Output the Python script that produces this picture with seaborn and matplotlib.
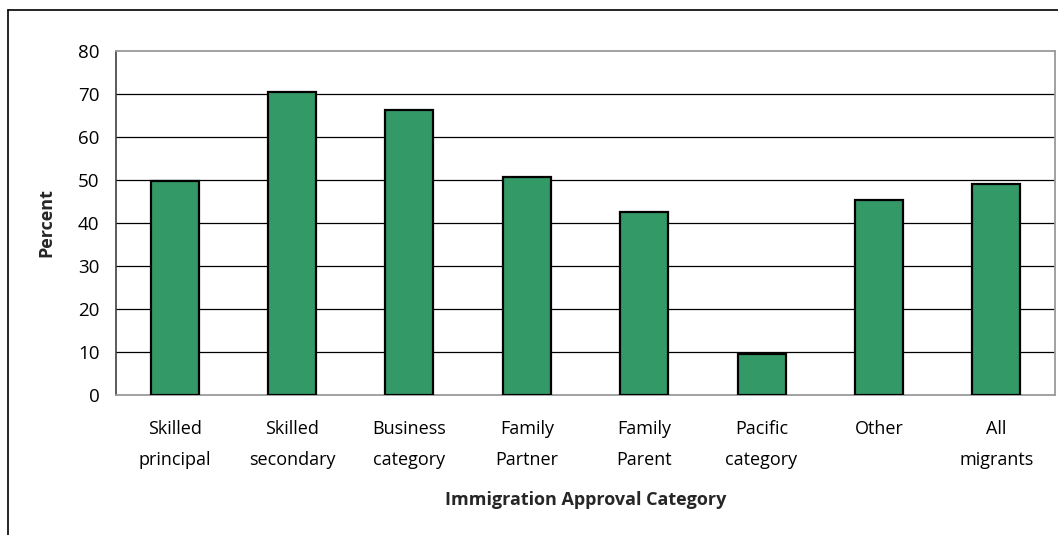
import matplotlib
matplotlib.use("Agg")
import matplotlib.pyplot as plt
from matplotlib.lines import Line2D
import seaborn as sns
import pandas as pd

categories = ["Skilled\nprincipal", "Skilled\nsecondary", "Business\ncategory",
              "Family\nPartner", "Family\nParent", "Pacific\ncategory",
              "Other", "All\nmigrants"]
percent = [49.8, 70.5, 66.2, 50.6, 42.5, 9.6, 45.4, 49.1]
y_ticks = [0, 10, 20, 30, 40, 50, 60, 70, 80]

sns.set_theme(style="white")
plt.rcParams["font.family"] = ["Open Sans", "DejaVu Sans"]

df = pd.DataFrame({"category": categories, "percent": percent})

fig = plt.figure(figsize=(10.58, 5.35), dpi=100)
ax = fig.add_axes([116 / 1058, 1 - 395 / 535, (1055 - 116) / 1058, (395 - 51) / 535])

sns.barplot(data=df, x="category", y="percent", color="#339966", saturation=1,
            width=0.41, edgecolor="black", linewidth=1.6, ax=ax, zorder=3)

ax.set_ylim(0, 80)
ax.set_xlim(-0.5, len(categories) - 0.5)
ax.set_yticks(y_ticks)
ax.set_yticklabels([str(v) for v in y_ticks], fontsize=13.5, color="black")

# category boundaries get the tick marks, category centres get the labels
ax.set_xticks([i - 0.5 for i in range(len(categories) + 1)])
ax.set_xticklabels([""] * (len(categories) + 1))
ax.set_xticks(range(len(categories)), minor=True)
ax.set_xticklabels(categories, minor=True, fontsize=13, color="black", linespacing=1.9)
ax.tick_params(axis="x", which="minor", length=0, pad=18)
ax.tick_params(axis="x", which="major", length=5, width=1, color="#808080", direction="out")
ax.tick_params(axis="y", length=5, width=1, color="#404040", direction="out", pad=7)

for v in y_ticks[1:-1]:
    ax.axhline(v, color="black", linewidth=0.9, zorder=1)

for side in ["top", "right", "bottom"]:
    ax.spines[side].set_color("#9a9a9a")
    ax.spines[side].set_linewidth(1.3)
ax.spines["left"].set_color("#404040")
ax.spines["left"].set_linewidth(1.2)

ax.set_ylabel("Percent", fontsize=13, fontweight="bold", labelpad=16)
ax.set_xlabel("Immigration Approval Category", fontsize=13, fontweight="bold", labelpad=16)

# outer chart frame
fig.add_artist(Line2D([8 / 1058, 8 / 1058], [0, 1 - 10 / 535], transform=fig.transFigure,
                      color="black", linewidth=1.2))
fig.add_artist(Line2D([8 / 1058, 1], [1 - 10 / 535, 1 - 10 / 535], transform=fig.transFigure,
                      color="black", linewidth=1.2))

fig.savefig("out.png", dpi=100, facecolor="white")
